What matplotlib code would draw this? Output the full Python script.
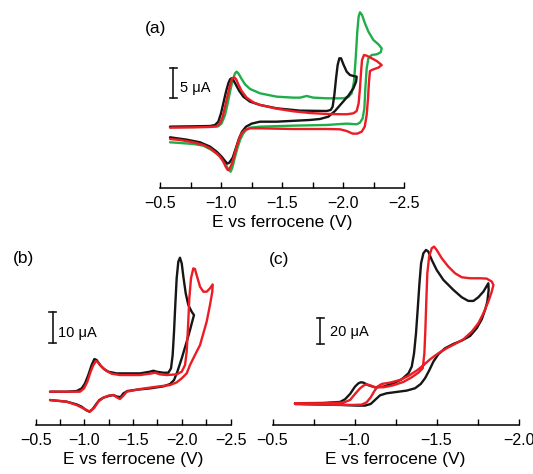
"""
Cyclic voltammograms, three panels (a), (b), (c).
Current is plotted cathodic-up, potentials vs ferrocene on a reversed axis.
"""

import matplotlib
matplotlib.use("Agg")
import matplotlib.pyplot as plt

plt.rcParams['font.family'] = ['Liberation Sans', 'DejaVu Sans']

# ---- panel (a): E (V) and current (uA) ----
a_green_E = [-0.582, -0.773, -0.910, -0.978, -1.005, -1.033, -1.055, -1.074, -1.096,
             -1.115, -1.128, -1.142, -1.169, -1.197, -1.238, -1.320, -1.456, -1.593,
             -1.648, -1.702, -1.757, -1.866, -2.003, -2.044, -2.071, -2.090, -2.104,
             -2.117, -2.128, -2.139, -2.156, -2.180, -2.208, -2.249, -2.290, -2.317,
             -2.309, -2.276, -2.235, -2.208, -2.194, -2.183, -2.175, -2.161, -2.139,
             -2.112, -2.030, -1.866, -1.593, -1.320, -1.238, -1.205, -1.178, -1.156,
             -1.134, -1.112, -1.093, -1.079, -1.063, -1.041, -1.014, -0.978, -0.923,
             -0.855, -0.773, -0.664, -0.582]
a_green_I = [0.11, 0.11, 0.16, 0.22, 0.71, 2.08, 3.99, 5.90, 7.81,
             8.91, 9.18, 8.91, 7.98, 7.10, 6.34, 5.63, 5.08, 4.92,
             4.92, 5.19, 4.92, 4.81, 4.81, 5.03, 5.63, 7.54, 11.37,
             15.74, 18.20, 18.91, 18.47, 17.10, 15.74, 14.37, 13.66, 13.01,
             12.35, 12.02, 11.91, 11.37, 9.73, 6.45, 3.17, 1.53, 0.82,
             0.55, 0.66, 0.44, 0.33, 0.16, 0.00, -0.38, -1.09, -2.02,
             -3.39, -5.03, -6.56, -7.21, -6.94, -6.12, -5.30, -4.48, -3.66,
             -2.95, -2.68, -2.51, -2.40]

a_black_E = [-0.582, -0.773, -0.910, -0.951, -0.978, -1.000, -1.019, -1.041, -1.060,
             -1.074, -1.085, -1.101, -1.123, -1.150, -1.183, -1.238, -1.320, -1.456,
             -1.648, -1.866, -1.899, -1.915, -1.929, -1.943, -1.956, -1.970, -1.984,
             -2.003, -2.030, -2.057, -2.085, -2.112, -2.107, -2.085, -2.044, -1.989,
             -1.934, -1.880, -1.811, -1.730, -1.456, -1.320, -1.251, -1.205, -1.172,
             -1.148, -1.123, -1.096, -1.068, -1.052, -1.033, -1.005, -0.964, -0.910,
             -0.828, -0.719, -0.582]
a_black_I = [0.16, 0.22, 0.27, 0.44, 0.98, 2.35, 3.99, 5.90, 7.27,
             7.92, 8.09, 7.81, 6.99, 6.01, 5.08, 4.26, 3.72, 3.17,
             2.79, 2.73, 2.90, 3.44, 5.36, 8.09, 10.27, 11.37, 11.37,
             10.38, 9.18, 8.63, 8.47, 8.36, 7.54, 6.45, 5.25, 3.99,
             2.73, 1.80, 1.42, 1.26, 0.98, 0.98, 0.66, 0.16, -0.66,
             -1.75, -3.28, -4.92, -5.74, -5.90, -5.46, -4.75, -3.93, -3.11,
             -2.40, -1.97, -1.58]

a_red_E = [-0.582, -0.773, -0.910, -0.964, -0.992, -1.014, -1.033, -1.055, -1.074,
           -1.090, -1.107, -1.123, -1.142, -1.169, -1.210, -1.265, -1.320, -1.456,
           -1.593, -1.730, -1.866, -2.030, -2.085, -2.112, -2.128, -2.139, -2.148,
           -2.156, -2.172, -2.194, -2.235, -2.276, -2.317, -2.290, -2.249, -2.221,
           -2.213, -2.205, -2.194, -2.178, -2.153, -2.117, -2.079, -2.030, -1.975,
           -1.866, -1.593, -1.320, -1.238, -1.197, -1.169, -1.150, -1.128, -1.107,
           -1.087, -1.068, -1.055, -1.038, -1.019, -0.992, -0.964, -0.910, -0.855,
           -0.773, -0.664, -0.582]
a_red_I = [0.00, 0.05, 0.11, 0.22, 0.71, 1.80, 3.44, 5.36, 6.99,
           7.98, 8.25, 7.98, 7.10, 6.01, 4.92, 4.15, 3.72, 3.11,
           2.68, 2.40, 2.24, 2.19, 2.35, 2.73, 3.99, 6.45, 9.18,
           11.09, 11.91, 11.80, 11.37, 10.93, 10.27, 9.84, 9.56, 9.29,
           7.54, 4.81, 2.08, 0.16, -0.66, -0.98, -0.98, -0.55, -0.27,
           -0.22, -0.22, -0.11, -0.11, -0.38, -0.93, -1.75, -3.11, -4.75,
           -6.01, -6.83, -6.94, -6.39, -5.57, -4.75, -4.21, -3.39, -2.84,
           -2.40, -2.02, -1.86]

# ---- panel (b) ----
b_black_E = [-0.647, -0.818, -0.920, -0.972, -1.006, -1.040, -1.074, -1.102, -1.126,
             -1.160, -1.201, -1.246, -1.331, -1.571, -1.673, -1.708, -1.742, -1.810,
             -1.862, -1.889, -1.906, -1.920, -1.933, -1.947, -1.964, -1.981, -1.999,
             -2.016, -2.040, -2.067, -2.101, -2.125, -2.111, -2.084, -2.050, -1.999,
             -1.954, -1.920, -1.879, -1.810, -1.673, -1.536, -1.441, -1.400, -1.372,
             -1.338, -1.297, -1.246, -1.194, -1.153, -1.119, -1.085, -1.051, -1.016,
             -0.972, -0.920, -0.818, -0.647]
b_black_I = [0.00, 0.00, 0.21, 1.05, 2.63, 5.26, 8.41, 10.30, 9.99,
             8.41, 7.15, 6.31, 5.78, 5.78, 6.31, 6.62, 6.31, 5.99,
             5.99, 7.36, 11.57, 18.93, 27.34, 35.75, 41.01, 42.27, 40.48,
             36.28, 31.02, 27.34, 25.24, 24.19, 22.61, 19.45, 15.77, 10.52,
             6.31, 3.68, 2.42, 1.68, 1.05, 0.63, 0.21, -0.53, -1.68,
             -1.58, -1.05, -1.37, -1.89, -2.63, -4.00, -5.47, -6.31, -5.78,
             -4.73, -4.00, -3.15, -2.63]

b_red_E = [-0.647, -0.955, -0.996, -1.030, -1.064, -1.092, -1.119, -1.143, -1.177,
           -1.228, -1.280, -1.365, -1.571, -1.673, -1.725, -1.776, -1.844, -1.947,
           -1.999, -2.033, -2.050, -2.063, -2.077, -2.094, -2.118, -2.135, -2.152,
           -2.187, -2.221, -2.255, -2.289, -2.317, -2.313, -2.289, -2.255, -2.221,
           -2.187, -2.135, -2.084, -2.050, -1.999, -1.947, -1.879, -1.742, -1.571,
           -1.434, -1.400, -1.365, -1.338, -1.297, -1.246, -1.194, -1.143, -1.102,
           -1.057, -1.023, -0.989, -0.920, -0.818, -0.647]
b_red_I = [0.00, 0.00, 1.05, 3.15, 6.31, 8.41, 9.67, 9.25, 7.89,
           6.52, 5.68, 5.26, 5.26, 5.68, 5.99, 5.47, 5.26, 5.47,
           6.31, 8.41, 12.62, 19.98, 29.44, 35.75, 38.91, 38.70, 36.80,
           33.12, 31.55, 31.55, 32.60, 33.86, 31.55, 27.34, 22.08, 18.40,
           14.72, 11.57, 8.41, 5.78, 4.21, 2.94, 2.10, 1.58, 0.84,
           0.00, -1.26, -2.31, -1.89, -1.05, -1.26, -1.89, -3.15, -5.05,
           -6.31, -5.78, -5.26, -4.21, -3.15, -2.63]

# ---- panel (c) ----
c_black_E = [-0.637, -0.810, -0.912, -0.942, -0.973, -1.003, -1.024, -1.038, -1.054,
             -1.085, -1.125, -1.176, -1.237, -1.288, -1.329, -1.349, -1.363, -1.375,
             -1.385, -1.396, -1.406, -1.420, -1.436, -1.450, -1.471, -1.501, -1.542,
             -1.603, -1.654, -1.694, -1.725, -1.755, -1.786, -1.816, -1.818, -1.810,
             -1.796, -1.776, -1.745, -1.705, -1.654, -1.603, -1.552, -1.511, -1.481,
             -1.457, -1.430, -1.404, -1.369, -1.318, -1.257, -1.196, -1.156, -1.125,
             -1.099, -1.064, -1.014, -0.912, -0.810, -0.637]
c_black_I = [0.00, 0.26, 1.03, 3.08, 7.18, 12.82, 15.38, 16.15, 15.90,
             13.85, 12.31, 12.82, 15.38, 18.46, 23.08, 28.21, 38.46, 53.85,
             71.79, 92.31, 107.69, 115.38, 117.95, 116.67, 110.26, 102.56, 94.87,
             87.18, 81.54, 78.72, 78.72, 81.54, 85.90, 92.31, 87.18, 78.21,
             71.79, 64.62, 57.69, 51.79, 48.21, 45.64, 42.31, 37.69, 32.05,
             25.64, 19.23, 14.87, 11.54, 9.74, 8.72, 7.69, 6.15, 2.56,
             -0.51, -1.79, -1.79, -1.28, -1.03, -0.51]

c_red_E = [-0.637, -0.810, -0.932, -0.973, -1.003, -1.034, -1.058, -1.074, -1.095,
           -1.125, -1.176, -1.237, -1.298, -1.349, -1.390, -1.416, -1.426, -1.432,
           -1.438, -1.444, -1.455, -1.471, -1.485, -1.501, -1.532, -1.572, -1.613,
           -1.654, -1.705, -1.766, -1.806, -1.837, -1.847, -1.837, -1.816, -1.786,
           -1.755, -1.715, -1.664, -1.613, -1.562, -1.511, -1.461, -1.420, -1.379,
           -1.329, -1.278, -1.217, -1.166, -1.140, -1.119, -1.099, -1.074, -1.044,
           -0.993, -0.810, -0.637]
c_red_I = [0.00, 0.00, 0.51, 2.56, 7.18, 11.54, 13.85, 14.62, 13.85,
           12.31, 12.31, 13.85, 16.41, 20.00, 23.59, 26.92, 38.46, 56.41,
           79.49, 100.00, 112.82, 119.23, 120.51, 117.95, 111.54, 105.13, 100.00,
           96.92, 96.15, 96.15, 95.90, 93.59, 91.03, 85.90, 78.21, 69.23,
           61.54, 55.13, 49.23, 45.64, 42.31, 38.46, 33.85, 29.23, 25.13,
           21.03, 17.95, 15.90, 14.87, 12.82, 8.97, 4.62, 0.77, -1.03,
           -1.28, -1.03, -0.51]

# axis ticks
ab_ticks = [-0.5, -1.0, -1.5, -2.0, -2.5]
ab_labels = ['\u22120.5', '\u22121.0', '\u22121.5', '\u22122.0', '\u22122.5']
ab_minor = [-0.75, -1.25, -1.75, -2.25]
c_ticks = [-0.5, -1.0, -1.5, -2.0]
c_labels = ['\u22120.5', '\u22121.0', '\u22121.5', '\u22122.0']
c_minor = [-0.75, -1.25, -1.75]

RED = '#ec1c24'
GREEN = '#1fae4b'
BLACK = '#161616'
LW = 1.7


def style_axis(ax, xlim, ticks, labels, minor, ylim):
    ax.set_xlim(xlim)
    ax.set_ylim(ylim)
    for s in ['left', 'right', 'top']:
        ax.spines[s].set_visible(False)
    ax.spines['bottom'].set_linewidth(1.1)
    ax.set_yticks([])
    ax.set_xticks(ticks)
    ax.set_xticklabels(labels)
    ax.set_xticks(minor, minor=True)
    ax.tick_params(axis='x', which='both', direction='in', length=4,
                   width=1.0, labelsize=11.5, pad=6)
    ax.set_xlabel('E vs ferrocene (V)', fontsize=12.5, labelpad=3)
    ax.patch.set_alpha(0)


def trace(ax, e, i, color):
    ax.plot(e, i, color=color, lw=LW, solid_joinstyle='round',
            solid_capstyle='round')


def scale_bar(ax, x, y0, y1, dx, text, tx, ty):
    ax.plot([x, x], [y0, y1], color=BLACK, lw=1.2)
    ax.plot([x - dx, x + dx], [y0, y0], color=BLACK, lw=1.2)
    ax.plot([x - dx, x + dx], [y1, y1], color=BLACK, lw=1.2)
    ax.text(tx, ty, text, fontsize=10.5, ha='left', va='center')


fig = plt.figure(figsize=(5.33, 4.74), dpi=100)

# (a)
ax_a = fig.add_axes([0.3002, 0.6034, 0.4578, 0.3861])
trace(ax_a, a_green_E, a_green_I, GREEN)
trace(ax_a, a_black_E, a_black_I, BLACK)
trace(ax_a, a_red_E, a_red_I, RED)
style_axis(ax_a, (-0.5, -2.5), ab_ticks, ab_labels, ab_minor, (-9.89, 20.11))
scale_bar(ax_a, -0.609, 4.81, 9.83, 0.028, '5 \u03bcA', -0.664, 6.55)

# (b)
ax_b = fig.add_axes([0.067, 0.1034, 0.3655, 0.3797])
trace(ax_b, b_black_E, b_black_I, BLACK)
trace(ax_b, b_red_E, b_red_I, RED)
style_axis(ax_b, (-0.5, -2.5), ab_ticks, ab_labels, ab_minor, (-10.5, 46.28))
scale_bar(ax_b, -0.675, 15.27, 25.24, 0.035, '10 \u03bcA', -0.732, 18.5)

# (c)
ax_c = fig.add_axes([0.5113, 0.1034, 0.4615, 0.3903])
trace(ax_c, c_black_E, c_black_I, BLACK)
trace(ax_c, c_red_E, c_red_I, RED)
style_axis(ax_c, (-0.5, -2.0), c_ticks, c_labels, c_minor, (-16.7, 125.6))
scale_bar(ax_c, -0.790, 45.6, 65.6, 0.021, '20 \u03bcA', -0.851, 55.1)

# panel letters
fig.text(0.2923, 0.9403, '(a)', fontsize=12.5, ha='center', va='center')
fig.text(0.0437, 0.4536, '(b)', fontsize=12.5, ha='center', va='center')
fig.text(0.5235, 0.4515, '(c)', fontsize=12.5, ha='center', va='center')

fig.savefig('out.png', dpi=100)
